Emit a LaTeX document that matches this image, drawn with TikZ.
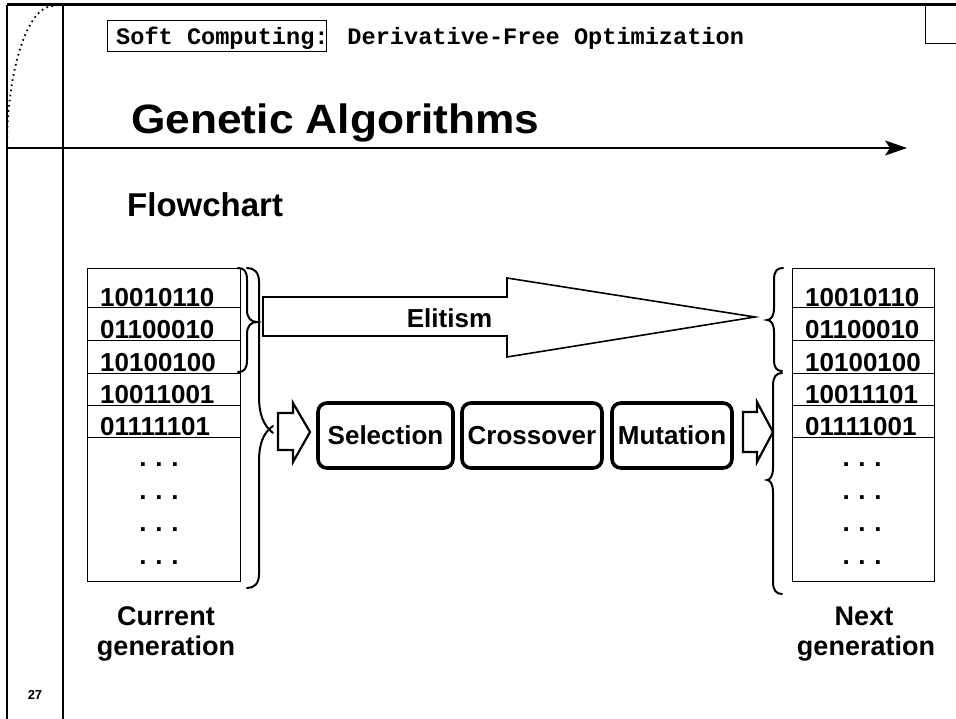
\documentclass[tikz,border=0pt]{standalone}
\usepackage{fontspec}
\setmainfont{Liberation Sans}
\newfontfamily\codefont{Liberation Mono}
\usetikzlibrary{arrows.meta}

\tikzset{
  framethick/.style={line width=3pt},
  framethin/.style={line width=2pt},
  cell/.style={draw, line width=1pt, inner sep=0pt},
  leftcell/.style={cell, minimum width=153pt},
  rightcell/.style={cell, minimum width=142pt},
  bits/.style={font=\fontsize{26}{30}\selectfont\bfseries, anchor=base west, inner sep=0pt},
  dots/.style={font=\fontsize{26}{30}\selectfont\bfseries, anchor=base, inner sep=0pt},
  brace/.style={line width=2pt, line cap=round},
  blockarrow/.style={draw, line width=1.6pt, line join=miter, fill=white},
  smallarrow/.style={draw, line width=2.2pt, line join=miter, fill=white},
  stage/.style={draw, line width=3.6pt, rounded corners=9pt, inner sep=0pt,
                minimum height=65pt, font=\fontsize{26}{30}\selectfont\bfseries},
  caption/.style={font=\fontsize{27}{30}\selectfont\bfseries, anchor=base, inner sep=0pt},
}

\begin{document}
\begin{tikzpicture}[x=1pt, y=-1pt]
  \useasboundingbox (0,0) rectangle (956,719);

  % ---- slide frame ----
  \draw[framethick] (7,5) -- (956,5);
  \draw[framethin] (7,5) -- (7,719);
  \draw[framethin] (63,5) -- (63,719);
  \coordinate (rulestart) at (7,148);
  \coordinate (ruleend) at (907,148);
  \draw[framethin, -{Stealth[length=22pt, width=15pt, inset=5pt]}] (rulestart) -- (ruleend);
  \draw[line width=1pt] (956,44) -- (925,44) -- (925,5);
  \draw[line width=1.8pt, dash pattern=on 1.6pt off 3.6pt]
    (53,6) .. controls (27.6,6) and (7,69.6) .. (7,148);
  \node[font=\fontsize{13}{15}\selectfont\bfseries, inner sep=0pt] (pageno) at (35,695) {27};

  % ---- header and titles ----
  \draw[line width=1pt] (107,21) rectangle (326,52);
  \node[font=\codefont\fontsize{23.6}{28}\selectfont\bfseries, anchor=base west, inner sep=0pt]
    (header) at (116,45) {Soft Computing: Derivative-Free Optimization};
  \node[font=\fontsize{41}{46}\selectfont\bfseries, anchor=base west, inner sep=0pt]
    (title) at (131,134) {\scalebox{1.08}[1]{Genetic Algorithms}};
  \node[font=\fontsize{33}{38}\selectfont\bfseries, anchor=base west, inner sep=0pt]
    (subtitle) at (127,217) {Flowchart};

  % ---- current generation ----
  \node[leftcell, minimum height=39pt] (c1) at (163.5,288.5) {};
  \node[leftcell, minimum height=33pt] (c2) at (163.5,324.5) {};
  \node[leftcell, minimum height=32pt] (c3) at (163.5,357) {};
  \node[leftcell, minimum height=32pt] (c4) at (163.5,389) {};
  \node[leftcell, minimum height=32pt] (c5) at (163.5,421) {};
  \node[leftcell, minimum height=144pt] (c6) at (163.5,509) {};
  \node[bits] (cb1) at (100,306.5) {10010110};
  \node[bits] (cb2) at (100,339) {01100010};
  \node[bits] (cb3) at (100,371.5) {10100100};
  \node[bits] (cb4) at (100,403.5) {10011001};
  \node[bits] (cb5) at (100,435.5) {01111101};
  \node[dots] (cd1) at (159,466) {.\,\,.\,\,.};
  \node[dots] (cd2) at (159,499) {.\,\,.\,\,.};
  \node[dots] (cd3) at (159,531) {.\,\,.\,\,.};
  \node[dots] (cd4) at (159,564) {.\,\,.\,\,.};
  \node[caption] (curlabel) at (166,625) {Current};
  \node[caption] (curlabelb) at (166,655) {generation};

  % ---- next generation ----
  \node[rightcell, minimum height=39pt] (n1) at (863,288.5) {};
  \node[rightcell, minimum height=33pt] (n2) at (863,324.5) {};
  \node[rightcell, minimum height=32pt] (n3) at (863,357) {};
  \node[rightcell, minimum height=32pt] (n4) at (863,389) {};
  \node[rightcell, minimum height=32pt] (n5) at (863,421) {};
  \node[rightcell, minimum height=144pt] (n6) at (863,509) {};
  \node[bits] (nb1) at (805,306.5) {10010110};
  \node[bits] (nb2) at (805,339) {01100010};
  \node[bits] (nb3) at (805,371.5) {10100100};
  \node[bits] (nb4) at (805,403.5) {10011101};
  \node[bits] (nb5) at (805,435.5) {01111001};
  \node[dots] (nd1) at (862,466) {.\,\,.\,\,.};
  \node[dots] (nd2) at (862,499) {.\,\,.\,\,.};
  \node[dots] (nd3) at (862,531) {.\,\,.\,\,.};
  \node[dots] (nd4) at (862,564) {.\,\,.\,\,.};
  \node[caption] (nextlabel) at (864,625) {Next};
  \node[caption] (nextlabelb) at (866,655) {generation};

  % ---- braces on the current generation ----
  \draw[brace] (238,268) .. controls (244,268) and (247,271) .. (247,280) -- (247,310)
    .. controls (247,318) and (251,322) .. (257,322)
    .. controls (251,322) and (247,326) .. (247,334) -- (247,360)
    .. controls (247,369) and (244,372) .. (238,372);
  \draw[brace] (247,268) .. controls (254,268) and (259,272) .. (259,282) -- (259,396)
    .. controls (259,414) and (263,425) .. (273,433);
  \draw[brace] (273,426) .. controls (263,433) and (259,444) .. (259,462) -- (259,574)
    .. controls (259,584) and (254,588) .. (247,588);

  % ---- braces on the next generation ----
  \draw[brace] (783,268) .. controls (777,268) and (774,271) .. (774,280) -- (774,308)
    .. controls (774,316) and (771,320) .. (767,320)
    .. controls (771,320) and (774,324) .. (774,332) -- (774,360)
    .. controls (774,368) and (777,371) .. (782,371);
  \draw[brace] (782,373) .. controls (776,373) and (773,377) .. (773,386) -- (773,468)
    .. controls (773,476) and (770,480) .. (767,480)
    .. controls (770,480) and (773,484) .. (773,492) -- (773,582)
    .. controls (773,590) and (776,594) .. (782,594);

  % ---- elitism block arrow ----
  \draw[blockarrow] (263,297) -- (507,297) -- (507,278) -- (755,317) -- (507,357)
    -- (507,336) -- (263,336) -- cycle;
  \node[font=\fontsize{26}{30}\selectfont\bfseries, anchor=base, inner sep=0pt]
    (elitism) at (449.5,328) {Elitism};

  % ---- genetic operators ----
  \draw[smallarrow] (278,413) -- (293,413) -- (293,403) -- (310,432) -- (293,462)
    -- (293,450) -- (278,450) -- cycle;
  \node[stage, minimum width=135pt] (selection) at (385.5,435.5) {Selection};
  \node[stage, minimum width=140pt] (crossover) at (532,435.5) {Crossover};
  \node[stage, minimum width=120pt] (mutation) at (672,435.5) {Mutation};
  \draw[smallarrow] (743,412) -- (757,412) -- (757,402) -- (773,432) -- (757,462)
    -- (757,452) -- (743,452) -- cycle;
\end{tikzpicture}
\end{document}
